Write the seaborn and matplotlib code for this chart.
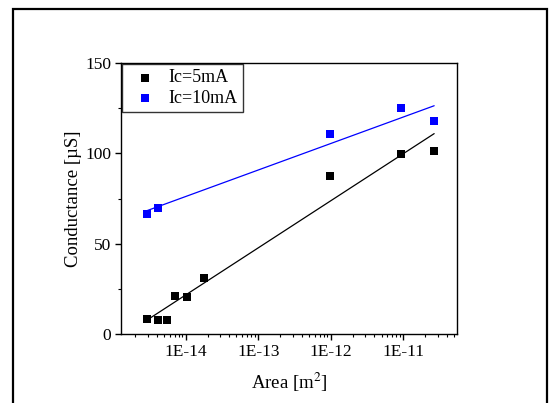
import numpy as np
import pandas as pd
import seaborn as sns
import matplotlib
matplotlib.use("Agg")
from matplotlib import pyplot as plt
from matplotlib.patches import Rectangle
from matplotlib.ticker import FixedLocator, FuncFormatter, LogLocator, NullFormatter

# values
area_5mA = [2.9e-15, 4.1e-15, 5.5e-15, 7.1e-15, 1.05e-14, 1.77e-14, 9.9e-13, 9.3e-12, 2.66e-11]
cond_5mA = [8.5, 8.0, 8.0, 21.0, 20.6, 31.2, 87.5, 99.7, 101.4]
area_10mA = [2.9e-15, 4.1e-15, 9.9e-13, 9.3e-12, 2.66e-11]
cond_10mA = [66.2, 69.9, 110.8, 125.2, 118.0]
series_labels = ["Ic=5mA", "Ic=10mA"]
series_colors = ["#000000", "#0000ff"]
x_ticks = [1e-14, 1e-13, 1e-12, 1e-11]
y_ticks = [0, 50, 100, 150]

sns.set_style("ticks")
plt.rcParams["font.family"] = ["Liberation Serif", "DejaVu Serif"]
plt.rcParams["mathtext.fontset"] = "stix"
plt.rcParams["text.color"] = "black"
plt.rcParams["axes.labelcolor"] = "black"

df5 = pd.DataFrame({"area": area_5mA, "cond": cond_5mA})
df10 = pd.DataFrame({"area": area_10mA, "cond": cond_10mA})

fig = plt.figure(figsize=(5.54, 4.03), dpi=100)
ax = fig.add_axes([0.2184, 0.171, 0.6066, 0.6727])
ax.set_xscale("log")

handles = []
for df, lab, col in zip([df5, df10], series_labels, series_colors):
    # log fit line: y ~ log(x)
    sns.regplot(data=df, x="area", y="cond", logx=True, ci=None, scatter=False,
                color=col, line_kws={"linewidth": 0.9}, ax=ax)
    h = ax.scatter(df["area"], df["cond"], marker="s", s=30, color=col,
                   linewidths=0, label=lab, zorder=3)
    handles.append(h)

ax.set_xlim(1.28e-15, 5.5e-11)
ax.set_ylim(0, 150)
ax.xaxis.set_major_locator(FixedLocator(x_ticks))
ax.xaxis.set_major_formatter(FuncFormatter(lambda v, p: "1E%d" % round(np.log10(v))))
ax.xaxis.set_minor_locator(LogLocator(base=10, subs=np.arange(2, 10)))
ax.xaxis.set_minor_formatter(NullFormatter())
ax.yaxis.set_major_locator(FixedLocator(y_ticks))
ax.yaxis.set_minor_locator(FixedLocator([25, 75, 125]))

ax.tick_params(which="major", direction="out", length=4, width=1, labelsize=12.5,
               colors="black", pad=3)
ax.tick_params(which="minor", direction="out", length=2, width=0.8, colors="black")
for sp in ax.spines.values():
    sp.set_visible(True)
    sp.set_linewidth(1.0)
    sp.set_color("black")

ax.set_xlabel("Area [m$^2$]", fontsize=13.5, labelpad=8)
ax.set_ylabel("Conductance [\u00b5S]", fontsize=13.5, labelpad=2.5)

leg = ax.legend(handles=handles, loc="upper left", fontsize=13, frameon=True,
                fancybox=False, borderaxespad=0.05, handletextpad=0.35,
                borderpad=0.3, labelspacing=0.2, markerscale=1.1,
                handlelength=1.95)
leg.get_frame().set_edgecolor("black")
leg.get_frame().set_linewidth(1.0)
for t in leg.get_texts():
    t.set_color("black")

# outer frame around the figure
fig.patches.append(Rectangle((0.0235, -0.05), 0.9635, 1.028, transform=fig.transFigure,
                             fill=False, edgecolor="black", linewidth=1.6, zorder=0))

fig.savefig("out.png", dpi=100)
